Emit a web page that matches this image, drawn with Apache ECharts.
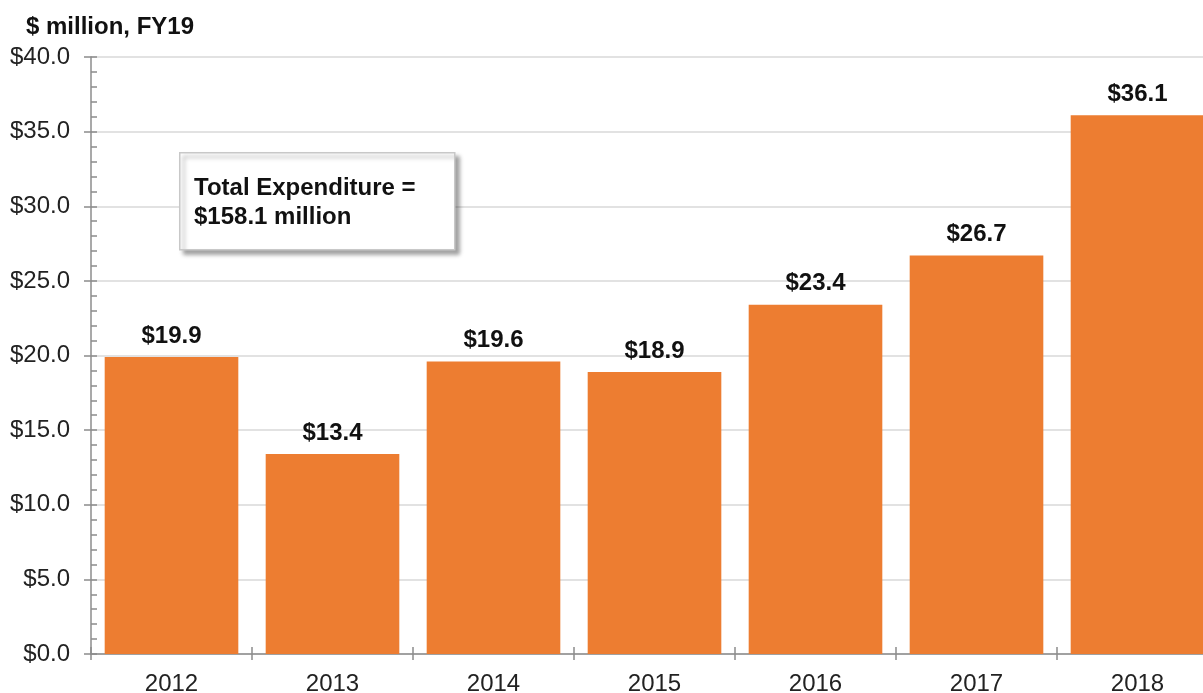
<!DOCTYPE html>
<html><head><meta charset="utf-8">
<script src="https://cdn.jsdelivr.net/npm/echarts@6/dist/echarts.min.js"></script>
<style>html,body{margin:0;padding:0;background:#fff}#c{width:1203px;height:693px}</style>
</head><body><div id="c"></div>
<script>
const categories = ['2012','2013','2014','2015','2016','2017','2018'];
const values = [19.9, 13.4, 19.6, 18.9, 23.4, 26.7, 36.1];
const yTicks = [0, 5, 10, 15, 20, 25, 30, 35, 40];
const unitTitle = '$ million, FY19';
const noteLines = ['Total Expenditure =', '$158.1 million'];

const font = 'Liberation Sans, Arial, sans-serif';
const chart = echarts.init(document.getElementById('c'));
chart.setOption({
  animation: false,
  backgroundColor: '#fff',
  title: {text: unitTitle, left: 21, top: 10, textStyle: {fontFamily: font, fontSize: 24, fontWeight: 'bold', color: '#111'}},
  grid: {left: 91, width: 1127, top: 57, bottom: 39, containLabel: false, outerBoundsMode: 'none'},
  xAxis: [
    {type: 'category', data: categories, boundaryGap: true,
     axisLine: {lineStyle: {color: '#8c8c8c', width: 1.5}},
     axisTick: {show: true, length: 6, lineStyle: {color: '#8c8c8c', width: 1.5}},
     axisLabel: {fontFamily: font, fontSize: 24, color: '#222', margin: 18}},
    {type: 'category', data: categories, position: 'bottom', boundaryGap: true,
     axisLine: {show: false}, axisLabel: {show: false},
     axisTick: {show: true, inside: true, length: 7, lineStyle: {color: '#8c8c8c', width: 1.5}}}
  ],
  yAxis: [
    {type: 'value', min: yTicks[0], max: yTicks[yTicks.length-1], interval: 5,
     axisLine: {show: true, lineStyle: {color: '#8c8c8c', width: 1.5}},
     axisTick: {show: true, length: 7, lineStyle: {color: '#8c8c8c', width: 1.5}},
     axisLabel: {fontFamily: font, fontSize: 24, color: '#222', margin: 21, formatter: v => '$' + v.toFixed(1)},
     splitLine: {show: true, lineStyle: {color: '#d9d9d9', width: 1.5}}},
    {type: 'value', min: yTicks[0], max: yTicks[yTicks.length-1], interval: 5, position: 'left',
     axisLine: {show: false}, axisLabel: {show: false}, splitLine: {show: false},
     axisTick: {show: true, inside: true, length: 6, lineStyle: {color: '#8c8c8c', width: 1.5}},
     minorTick: {show: true, splitNumber: 5, length: 6, lineStyle: {color: '#8c8c8c', width: 1.5}}}
  ],
  series: [{
    type: 'bar', data: values, xAxisIndex: 0, yAxisIndex: 0,
    barCategoryGap: '17%',
    itemStyle: {color: '#ED7D31'},
    label: {show: true, position: 'top', distance: 9, fontFamily: font, fontSize: 24, fontWeight: 'bold', color: '#111',
            formatter: p => '$' + p.value.toFixed(1)}
  }],
  graphic: [
    {type: 'rect', left: 179, top: 152, shape: {width: 275, height: 97},
     style: {fill: '#fff', stroke: '#c8c8c8', lineWidth: 1.5, shadowBlur: 4, shadowOffsetX: 4, shadowOffsetY: 4, shadowColor: 'rgba(0,0,0,0.35)'}, z: 100},
    {type: 'text', left: 194, top: 174, z: 101,
     style: {text: noteLines.join('\n'), fontFamily: font, fontSize: 24, fontWeight: 'bold', fill: '#111', lineHeight: 29}}
  ]
});
</script></body></html>
